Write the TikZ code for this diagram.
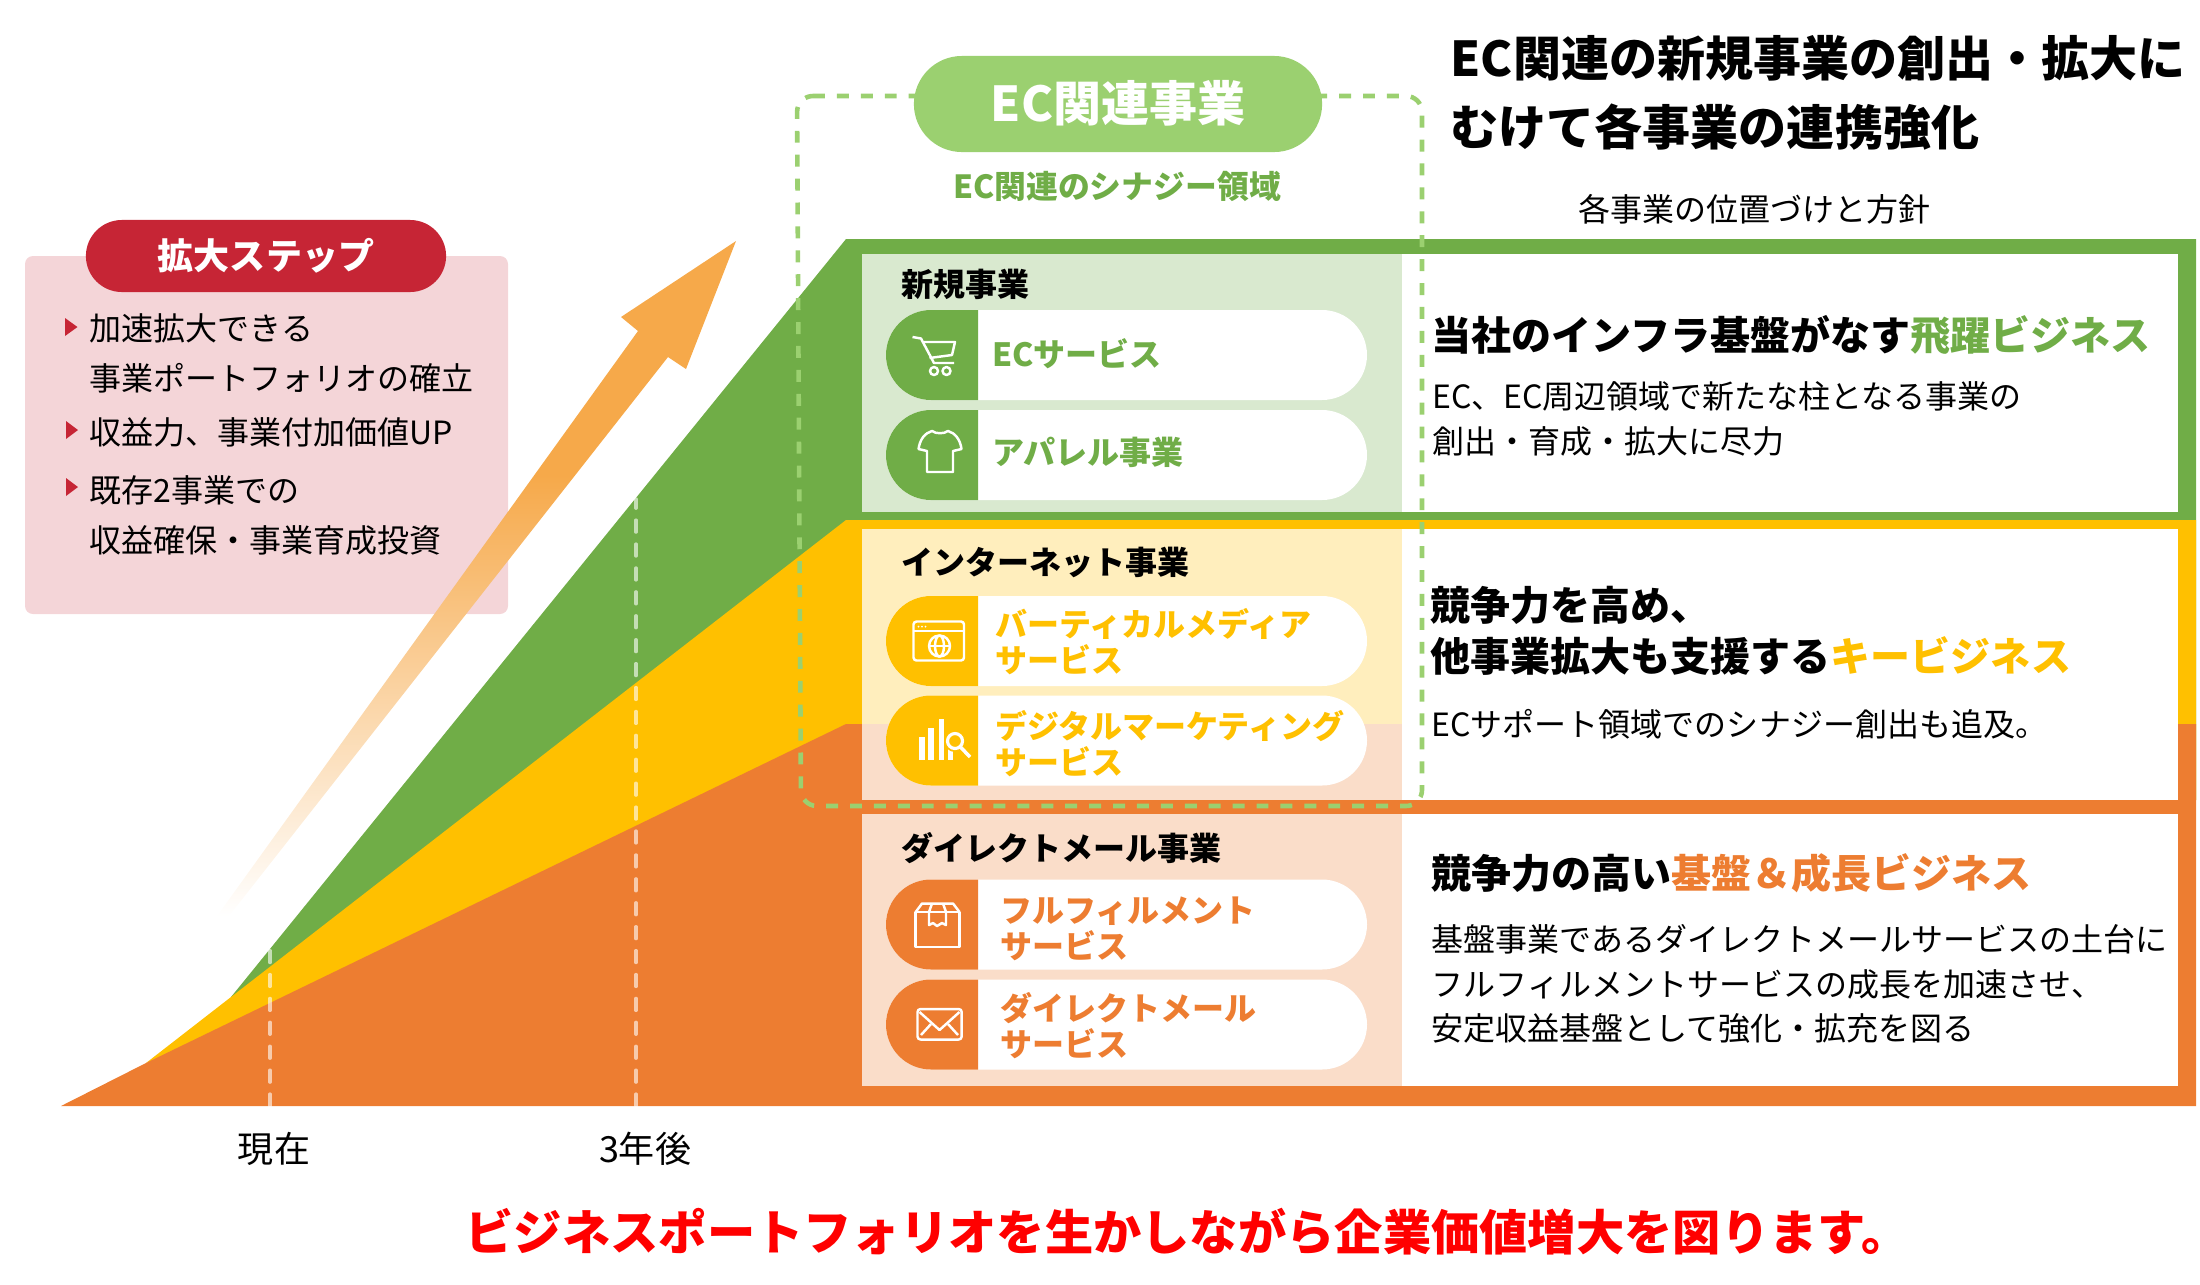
\documentclass[tikz,border=0pt]{standalone}
\usepackage{fontspec}
\setmainfont{Noto Sans CJK JP}
\usetikzlibrary{positioning}
\definecolor{biggreen}{HTML}{70AD47}
\definecolor{bigyellow}{HTML}{FFC000}
\definecolor{bigorange}{HTML}{ED7D31}
\definecolor{lightgreen}{HTML}{9BD070}
\definecolor{steppink}{HTML}{F4D5D8}
\definecolor{stepred}{HTML}{C62535}
\definecolor{arroworange}{HTML}{F6A94A}
\definecolor{slogred}{HTML}{FF0000}
\pgfdeclareverticalshading{arrowfade}{100bp}{color(0bp)=(white);color(26bp)=(white);color(58bp)=(arroworange);color(100bp)=(arroworange)}
\tikzset{
bodytext/.style={
  inner sep=0pt,
  anchor=west,
  align=left,
  font=\fontsize{9.1}{12.6}\selectfont,
  }
}
\tikzset{
steptext/.style={
  bodytext,
  font=\fontsize{9.1}{14.2}\selectfont,
  }
}
\tikzset{
headtext/.style={
  inner sep=0pt,
  anchor=west,
  align=left,
  font=\fontsize{11.38}{14.5}\selectfont\bfseries,
  }
}
\tikzset{
unittext/.style={
  inner sep=0pt,
  anchor=west,
  font=\fontsize{9.1}{12.6}\selectfont\bfseries,
  }
}
\tikzset{
itemtext/.style={
  inner sep=0pt,
  anchor=west,
  align=left,
  font=\fontsize{9.1}{10.24}\selectfont\bfseries,
  }
}
\tikzset{
whitepill/.style={
  fill=white,
  rounded corners=.45cm,
  }
}
\tikzset{
tintpanel/.style={
  fill=white,
  fill opacity=.74,
  }
}
\tikzset{
iconline/.style={
  draw=white,
  line width=.7pt,
  line join=round,
  }
}
\tikzset{
yearline/.style={
  draw=white,
  draw opacity=.6,
  line width=.95pt,
  line cap=round,
  dash pattern=on 3.4pt off 3.4pt,
  }
}

\begin{document}
\begin{tikzpicture}[x=.01cm,y=-.01cm]
    \useasboundingbox (0,0) rectangle (2200,1284);

    % growth steps
    \fill[biggreen] (231,997) -- (846,239) -- (2196,239) -- (2196,800) -- (846,800) -- cycle;
    \fill[bigyellow] (146,1063) -- (231,997) -- (846,520) -- (2196,520) -- (2196,800) -- (846,800) -- cycle;
    \fill[bigorange] (61,1106) -- (146,1063) -- (846,724) -- (2196,724) -- (2196,1106) -- cycle;

    \coordinate (now_top) at (270,949);
    \coordinate (now_base) at (270,1106);
    \coordinate (later_top) at (636,499);
    \coordinate (later_base) at (636,1106);
    \draw[yearline] (now_base) -- (now_top);
    \draw[yearline] (later_base) -- (later_top);

    % left box
    \fill[steppink, rounded corners=.08cm] (25,256) rectangle (508,614);
    \node[fill=stepred, text=white, rounded corners=.36cm, minimum width=3.6cm, minimum height=.72cm, inner sep=0pt, font=\fontsize{10.24}{12}\selectfont\bfseries] (step_title) at (266,256) {\raisebox{-1pt}{拡大ステップ}};
    \fill[stepred] (65,318) -- (77.5,327) -- (65,336) -- cycle;
    \fill[stepred] (66,421) -- (78,430) -- (66,439) -- cycle;
    \fill[stepred] (66,478) -- (78,487) -- (66,496) -- cycle;
    \node[steptext] (step_a) at (89,353) {加速拡大できる\\事業ポートフォリオの確立};
    \node[steptext] (step_b) at (89,432) {収益力、事業付加価値UP};
    \node[steptext] (step_c) at (89,515) {既存2事業での\\収益確保・事業育成投資};

    % up arrow
    \shade[shading=arrowfade] (736,241) -- (686,369) -- (668,357) -- (218,930) -- (207,930) -- (638,331) -- (621,317) -- cycle;

    % left part of the panels
    \fill[tintpanel] (862,254) rectangle (1402,512);
    \fill[tintpanel] (862,529) rectangle (1402,800);
    \fill[tintpanel] (862,814) rectangle (1402,1086);

    % right part of the panels
    \fill[white] (1402,254) rectangle (2178,512);
    \fill[white] (1402,529) rectangle (2178,800);
    \fill[white] (1402,814) rectangle (2178,1086);

    % synergy area
    \draw[lightgreen, line width=1.3pt, rounded corners=.16cm, dash pattern=on 3.4pt off 3.4pt] (797,96) -- (1422,96) -- (1422,806) -- (801,806) -- cycle;
    \node[fill=lightgreen, text=white, rounded corners=.48cm, minimum width=4.08cm, minimum height=.96cm, inner sep=0pt, font=\fontsize{13.66}{16}\selectfont\bfseries] (ec_badge) at (1118,104) {\raisebox{1.6pt}{EC関連事業}};
    \node[inner sep=0pt, text=biggreen, below=.18cm of ec_badge, xshift=-.01cm, font=\fontsize{9.05}{12}\selectfont\bfseries] (ec_sub) {EC関連のシナジー領域};

    % titles
    \node[inner sep=0pt, anchor=west, align=left, font=\fontsize{13.66}{19.6}\selectfont\bfseries] (main_title) at (1450,93) {EC関連の新規事業の創出・拡大に\\むけて各事業の連携強化};
    \node[inner sep=0pt, font=\fontsize{9.1}{12}\selectfont] (pos_title) at (1754,209) {各事業の位置づけと方針};

    % new business part
    \node[unittext] (new_unit) at (901,284) {新規事業};
    \fill[whitepill] (886,310) rectangle (1367,400);
    \fill[biggreen] (978,310) -- (931,310) arc[start angle=-90,end angle=-270,radius=45] -- (978,400) -- cycle;
    \node[itemtext, text=biggreen] (ec_item) at (991.5,354) {ECサービス};
    \fill[whitepill] (886,410) rectangle (1367,500);
    \fill[biggreen] (978,410) -- (931,410) arc[start angle=-90,end angle=-270,radius=45] -- (978,500) -- cycle;
    \node[itemtext, text=biggreen] (wear_item) at (991.5,452) {アパレル事業};

    % internet part
    \node[unittext] (net_unit) at (901,562) {インターネット事業};
    \fill[whitepill] (886,596) rectangle (1367,686);
    \fill[bigyellow] (978,596) -- (931,596) arc[start angle=-90,end angle=-270,radius=45] -- (978,686) -- cycle;
    \node[itemtext, text=bigyellow] (media_item) at (994.5,642) {バーティカルメディア\\サービス};
    \fill[whitepill] (886,695.5) rectangle (1367,785.5);
    \fill[bigyellow] (978,695.5) -- (931,695.5) arc[start angle=-90,end angle=-270,radius=45] -- (978,785.5) -- cycle;
    \node[itemtext, text=bigyellow] (mkt_item) at (994.5,744) {デジタルマーケティング\\サービス};

    % direct mail part
    \node[unittext] (dm_unit) at (901,848) {ダイレクトメール事業};
    \fill[whitepill] (886,879.5) rectangle (1367,969.5);
    \fill[bigorange] (978,879.5) -- (931,879.5) arc[start angle=-90,end angle=-270,radius=45] -- (978,969.5) -- cycle;
    \node[itemtext, text=bigorange] (ful_item) at (999.5,929) {フルフィルメント\\サービス};
    \fill[whitepill] (886,979.5) rectangle (1367,1069.5);
    \fill[bigorange] (978,979.5) -- (931,979.5) arc[start angle=-90,end angle=-270,radius=45] -- (978,1069.5) -- cycle;
    \node[itemtext, text=bigorange] (mail_item) at (999.5,1026) {ダイレクトメール\\サービス};

    % cart icon
    \draw[iconline] (912.5,337) -- (921,338.5) -- (934,363) -- (954,363);
    \draw[iconline] (924,342) -- (955,342) -- (952,355) -- (929.5,358);
    \draw[iconline] (934,371) circle[radius=4];
    \draw[iconline] (946.5,371) circle[radius=4];

    % shirt icon
    \draw[iconline] (927,472) -- (927,451) -- (918.5,449) .. controls (920,439) and (925,433) .. (932,431) .. controls (936,434) and (944,434) .. (948,431) .. controls (955,433) and (960,439) .. (961.5,449) -- (953,451) -- (953,472) -- cycle;

    % browser icon
    \draw[iconline, rounded corners=.03cm] (913.5,621.5) rectangle (964,660.5);
    \draw[iconline] (913.5,631) -- (964,631);
    \fill[white] (918.5,626.5) circle[radius=1];
    \fill[white] (922,626.5) circle[radius=1];
    \fill[white] (925.5,626.5) circle[radius=1];
    \draw[iconline] (939.5,646) circle[radius=10.5];
    \draw[iconline] (939.5,646) ellipse[x radius=4.5,y radius=10.5];
    \draw[iconline] (929,646) -- (950,646);

    % chart icon
    \fill[white] (918.5,737) rectangle (925,760);
    \fill[white] (928,728) rectangle (934,760);
    \fill[white] (938.5,719) rectangle (944,760);
    \fill[white] (947.5,745) rectangle (953,760);
    \fill[bigyellow] (955,741) circle[radius=11];
    \draw[white, line width=.9pt] (955,741) circle[radius=7.5];
    \draw[white, line width=1pt] (960.5,747) -- (970,757);

    % box icon
    \draw[iconline] (915.7,912) rectangle (959.5,947);
    \draw[iconline] (915.7,912) -- (922,903.5) -- (953,903.5) -- (959.5,912);
    \draw[iconline] (929,912) -- (929,925) -- (933,923) -- (937,926) -- (942,923) -- (946,925) -- (946,912);
    \draw[iconline] (932,903.5) -- (929,912);
    \draw[iconline] (943,903.5) -- (946,912);

    % mail icon
    \draw[iconline, rounded corners=.03cm] (917.5,1009) rectangle (961.7,1039.5);
    \draw[iconline] (919.5,1012) -- (939.5,1030) -- (959.5,1012);
    \draw[iconline] (921,1035) -- (931,1024);
    \draw[iconline] (958,1035) -- (948,1024);

    % right texts
    \node[headtext] (new_head) at (1431,335) {当社のインフラ基盤がなす{\color{biggreen}飛躍ビジネス}};
    \node[bodytext] (new_body) at (1431.5,419) {EC、EC周辺領域で新たな柱となる事業の\\創出・育成・拡大に尽力};
    \node[headtext] (net_head) at (1430,631) {競争力を高め、\\他事業拡大も支援する{\color{bigyellow}キービジネス}};
    \node[bodytext] (net_body) at (1431,724) {ECサポート領域でのシナジー創出も追及。};
    \node[headtext] (dm_head) at (1431,873) {競争力の高い{\color{bigorange}基盤＆成長ビジネス}};
    \node[bodytext] (dm_body) at (1431,984) {基盤事業であるダイレクトメールサービスの土台に\\フルフィルメントサービスの成長を加速させ、\\安定収益基盤として強化・拡充を図る};

    % axis labels
    \node[inner sep=0pt, font=\fontsize{10.24}{12}\selectfont] (now_label) at (274,1149) {現在};
    \node[inner sep=0pt, font=\fontsize{10.24}{12}\selectfont] (later_label) at (645,1149) {3年後};

    % bottom line
    \node[inner sep=0pt, text=slogred, font=\fontsize{13.73}{16}\selectfont\bfseries] (slogan) at (1187.5,1232) {ビジネスポートフォリオを生かしながら企業価値増大を図ります。};
\end{tikzpicture}
\end{document}
